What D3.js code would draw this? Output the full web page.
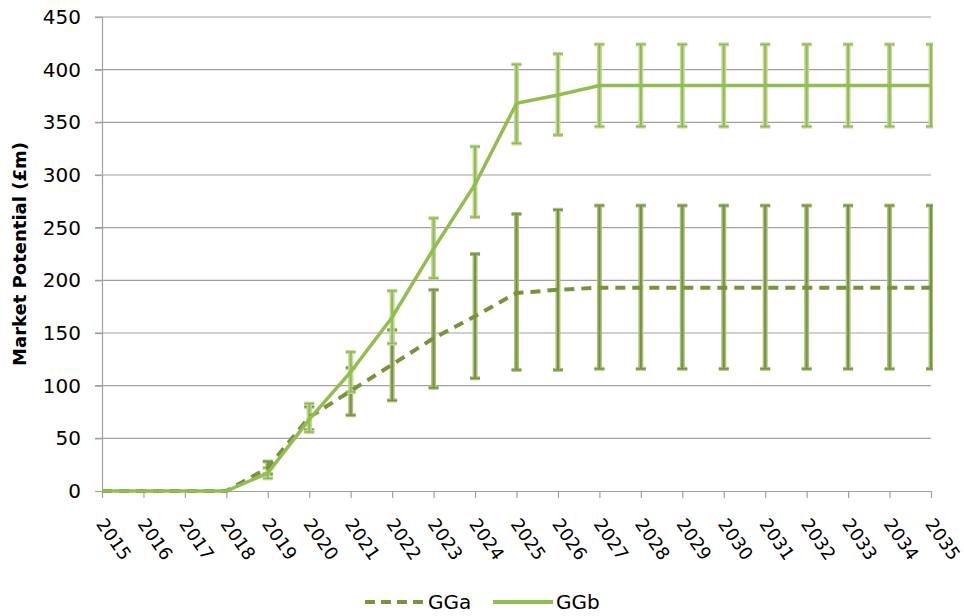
<!DOCTYPE html>
<html lang="en">
<head>
	<meta charset="utf-8">
	<title>Market Potential</title>
	<script type="text/javascript" src="https://cdn.jsdelivr.net/npm/d3@7"></script>
	<style type="text/css">
		body { margin: 0; background: #ffffff; }
		svg { display: block; }
		text { font-family: "DejaVu Sans", sans-serif; fill: #000; }
	</style>
</head>
<body>
	<script type="text/javascript">
// DATA
var years = ["2015", "2016", "2017", "2018", "2019", "2020", "2021", "2022", "2023", "2024",
             "2025", "2026", "2027", "2028", "2029", "2030", "2031", "2032", "2033", "2034", "2035"];
var yTicks = [0, 50, 100, 150, 200, 250, 300, 350, 400, 450];

var ggaValues = [0, 0, 0, 0, 22, 70, 95, 120, 145, 166, 188, 191, 193, 193, 193, 193, 193, 193, 193, 193, 193];
var ggaLow    = [null, null, null, null, 16, 58, 72, 86, 98, 107, 115, 115, 116, 116, 116, 116, 116, 116, 116, 116, 116];
var ggaHigh   = [null, null, null, null, 28, 80, 117, 153, 191, 225, 263, 267, 271, 271, 271, 271, 271, 271, 271, 271, 271];

var ggbValues = [0, 0, 0, 0, 17, 68, 113, 165, 230, 291, 368, 376, 385, 385, 385, 385, 385, 385, 385, 385, 385];
var ggbLow    = [null, null, null, null, 12, 56, 94, 140, 202, 260, 330, 338, 346, 346, 346, 346, 346, 346, 346, 346, 346];
var ggbHigh   = [null, null, null, null, 22, 83, 132, 190, 259, 327, 405, 415, 424, 424, 424, 424, 424, 424, 424, 424, 424];

var seriesNames = ["GGa", "GGb"];

// SIZE
var w = 964;
var h = 616;
var plotLeft = 102, plotRight = 931, plotTop = 17, plotBottom = 491;

var svg = d3.select("body")
	.append("svg")
	.attr("width", w)
	.attr("height", h);

var x = d3.scalePoint().domain(years).range([plotLeft, plotRight]);
var y = d3.scaleLinear().domain([0, 450]).range([plotBottom, plotTop]);

// GRIDLINES
svg.selectAll("line.grid")
	.data(yTicks.slice(1))
	.enter()
	.append("line")
	.attr("class", "grid")
	.attr("x1", plotLeft - 7)
	.attr("x2", plotRight)
	.attr("y1", function(d) { return y(d); })
	.attr("y2", function(d) { return y(d); })
	.attr("stroke", "#a0a0a0")
	.attr("stroke-width", 1.2);

// Y AXIS
var yAxis = d3.axisLeft(y).tickValues(yTicks).tickSize(7).tickPadding(14);
var gy = svg.append("g").attr("transform", "translate(" + plotLeft + ",0)").call(yAxis);
gy.select(".domain").attr("stroke", "#a0a0a0").attr("stroke-width", 1.2);
gy.selectAll(".tick line").attr("stroke", "#a0a0a0").attr("stroke-width", 1.2);
gy.selectAll(".tick text")
	.attr("font-size", "20px")
	.attr("font-family", "DejaVu Sans, sans-serif")
	.attr("fill", "#000");

// X AXIS
var xAxis = d3.axisBottom(x).tickSize(7).tickSizeOuter(0);
var gx = svg.append("g").attr("transform", "translate(0," + plotBottom + ")").call(xAxis);
gx.select(".domain").attr("stroke", "#a0a0a0").attr("stroke-width", 1.2);
gx.selectAll(".tick line").attr("stroke", "#a0a0a0").attr("stroke-width", 1.2);
gx.selectAll(".tick text")
	.attr("font-size", "18px")
	.attr("font-family", "DejaVu Sans, sans-serif")
	.attr("fill", "#000")
	.attr("text-anchor", "start")
	.attr("dy", null)
	.attr("y", 0)
	.attr("transform", "translate(-7,33) rotate(55)");

// Y TITLE
svg.append("text")
	.attr("transform", "translate(26,254) rotate(-90)")
	.attr("text-anchor", "middle")
	.attr("font-size", "18px")
	.attr("font-weight", "bold")
	.text("Market Potential (£m)");

// CLIP
svg.append("clipPath").attr("id", "plotclip")
	.append("rect")
	.attr("x", plotLeft - 10).attr("y", 0)
	.attr("width", plotRight - plotLeft + 12).attr("height", h);

var plot = svg.append("g").attr("clip-path", "url(#plotclip)");

// ERROR BARS
function errorBars(low, high, edge, core) {
	var idx = d3.range(years.length).filter(function(i) { return low[i] !== null; });
	var g = plot.append("g");
	// wide light band
	g.selectAll(null).data(idx).enter().append("line")
		.attr("x1", function(i) { return x(years[i]); })
		.attr("x2", function(i) { return x(years[i]); })
		.attr("y1", function(i) { return y(low[i]); })
		.attr("y2", function(i) { return y(high[i]); })
		.attr("stroke", edge).attr("stroke-width", 5);
	[low, high].forEach(function(arr) {
		g.selectAll(null).data(idx).enter().append("line")
			.attr("x1", function(i) { return x(years[i]) - 5; })
			.attr("x2", function(i) { return x(years[i]) + 5; })
			.attr("y1", function(i) { return y(arr[i]); })
			.attr("y2", function(i) { return y(arr[i]); })
			.attr("stroke", edge).attr("stroke-width", 4);
	});
	// darker core line
	g.selectAll(null).data(idx).enter().append("line")
		.attr("x1", function(i) { return x(years[i]); })
		.attr("x2", function(i) { return x(years[i]); })
		.attr("y1", function(i) { return y(low[i]); })
		.attr("y2", function(i) { return y(high[i]); })
		.attr("stroke", core).attr("stroke-width", 2);
	[low, high].forEach(function(arr) {
		g.selectAll(null).data(idx).enter().append("line")
			.attr("x1", function(i) { return x(years[i]) - 5; })
			.attr("x2", function(i) { return x(years[i]) + 5; })
			.attr("y1", function(i) { return y(arr[i]); })
			.attr("y2", function(i) { return y(arr[i]); })
			.attr("stroke", core).attr("stroke-width", 1.5);
	});
}

errorBars(ggaLow, ggaHigh, "#a9c07e", "#76933c");
errorBars(ggbLow, ggbHigh, "#c2da96", "#93b857");

// LINES
var line = d3.line()
	.x(function(d, i) { return x(years[i]); })
	.y(function(d) { return y(d); });

plot.append("path")
	.datum(ggaValues)
	.attr("d", line)
	.attr("fill", "none")
	.attr("stroke", "#77933c")
	.attr("stroke-width", 4)
	.attr("stroke-dasharray", "10,7");

plot.append("path")
	.datum(ggbValues)
	.attr("d", line)
	.attr("fill", "none")
	.attr("stroke", "#92bd4f")
	.attr("stroke-width", 3.5);

// LEGEND
var legend = svg.append("g");
var legendX = [365, 493];
seriesNames.forEach(function(name, i) {
	legend.append("line")
		.attr("x1", legendX[i]).attr("x2", legendX[i] + 60)
		.attr("y1", 602).attr("y2", 602)
		.attr("stroke", i === 0 ? "#77933c" : "#92bd4f")
		.attr("stroke-width", 4)
		.attr("stroke-dasharray", i === 0 ? "10,6" : null);
	legend.append("text")
		.attr("x", legendX[i] + 63)
		.attr("y", 609)
		.attr("font-size", "20px")
		.text(name);
});
	</script>
</body>
</html>
